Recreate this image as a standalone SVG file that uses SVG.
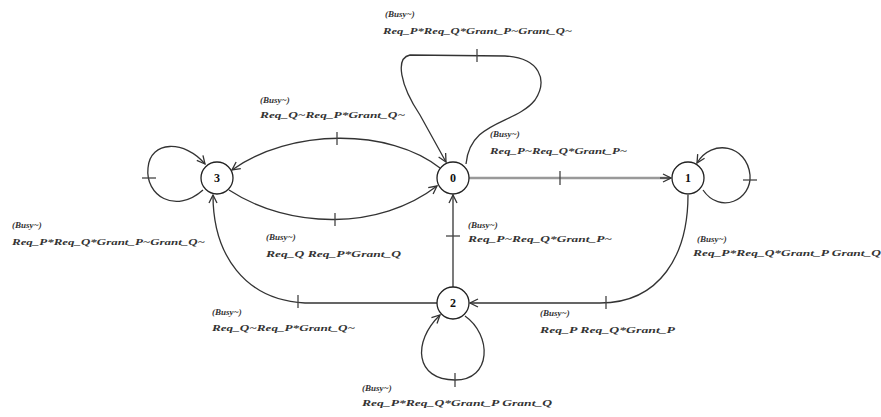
<svg xmlns="http://www.w3.org/2000/svg" width="881" height="417" viewBox="0 0 881 417">
<style>
.n circle{fill:#fff;stroke:#222;stroke-width:1.3}
.n text{font-family:"Liberation Serif",serif;font-size:12px;font-weight:bold;text-anchor:middle;fill:#111}
.e{fill:none;stroke:#333;stroke-width:1.3}
.g{fill:none;stroke:#999;stroke-width:2.6}
.t{stroke:#444;stroke-width:1.3}
.l{font-family:"Liberation Serif",serif;font-style:italic;font-weight:bold;font-size:9px;fill:#333}
</style>
<defs>
<marker id="a" markerWidth="10" markerHeight="10" refX="9" refY="5" orient="auto" markerUnits="userSpaceOnUse">
<path d="M1,1 L9,5 L1,9" fill="none" stroke="#333" stroke-width="1.3"/>
</marker>
</defs>
<g id="connectors">
<path class="e" d="M440 168 C390 128,290 128,232 170" marker-end="url(#a)"/>
<line class="t" x1="337" y1="132" x2="337" y2="145"/>
<path class="e" d="M229 190 C290 230,380 230,437 186" marker-end="url(#a)"/>
<line class="t" x1="335" y1="213" x2="335" y2="226"/>
<path class="g" d="M469 178 L670 178"/>
<path class="e" d="M660 178 L671 178" marker-end="url(#a)"/>
<line class="t" x1="560" y1="171" x2="560" y2="185"/>
<path class="e" d="M453 287 L453 195" marker-end="url(#a)"/>
<line class="t" x1="446" y1="236" x2="460" y2="236"/>
<path class="e" d="M688 195 C688 255,660 303,600 303 L470 303" marker-end="url(#a)"/>
<line class="t" x1="606" y1="296" x2="606" y2="309"/>
<path class="e" d="M437 303 L305 303 C245 300,213 255,213 195" marker-end="url(#a)"/>
<line class="t" x1="298" y1="295" x2="298" y2="308"/>
<path class="e" d="M466 164 C470 120,515 125,535 100 C548 80,540 58,505 56 L410 55 C395 58,400 85,420 115 L446 162" marker-end="url(#a)"/>
<line class="t" x1="477" y1="49" x2="477" y2="62"/>
<path class="e" d="M203 190 C175 215,145 195,148 168 C150 140,185 140,205 164" marker-end="url(#a)"/>
<line class="t" x1="142" y1="178" x2="156" y2="178"/>
<path class="e" d="M703 190 C720 215,752 200,750 175 C747 145,712 138,697 163" marker-end="url(#a)"/>
<line class="t" x1="743" y1="180" x2="757" y2="180"/>
<path class="e" d="M465 316 C492 335,492 380,455 380 C415 380,412 342,440 315" marker-end="url(#a)"/>
<line class="t" x1="455" y1="373" x2="455" y2="387"/>
</g>
<g id="node0" class="n"><circle cx="453" cy="178" r="16"/><text x="453" y="182">0</text></g>
<g id="node1" class="n"><circle cx="688" cy="178" r="16"/><text x="688" y="182">1</text></g>
<g id="node2" class="n"><circle cx="453" cy="303" r="16"/><text x="453" y="307">2</text></g>
<g id="node3" class="n"><circle cx="217" cy="178" r="16"/><text x="217" y="182">3</text></g>
<g id="labels">
<text class="l" x="385" y="17">(Busy~)</text>
<text class="l" x="383" y="34" textLength="189" lengthAdjust="spacingAndGlyphs">Req_P*Req_Q*Grant_P~Grant_Q~</text>
<text class="l" x="260" y="103">(Busy~)</text>
<text class="l" x="260" y="118" textLength="145" lengthAdjust="spacingAndGlyphs">Req_Q~Req_P*Grant_Q~</text>
<text class="l" x="490" y="137">(Busy~)</text>
<text class="l" x="490" y="154" textLength="137" lengthAdjust="spacingAndGlyphs">Req_P~Req_Q*Grant_P~</text>
<text class="l" x="12" y="228">(Busy~)</text>
<text class="l" x="12" y="245" textLength="193" lengthAdjust="spacingAndGlyphs">Req_P*Req_Q*Grant_P~Grant_Q~</text>
<text class="l" x="266" y="240">(Busy~)</text>
<text class="l" x="266" y="257" textLength="135" lengthAdjust="spacingAndGlyphs">Req_Q  Req_P*Grant_Q</text>
<text class="l" x="468" y="228">(Busy~)</text>
<text class="l" x="468" y="242" textLength="144" lengthAdjust="spacingAndGlyphs">Req_P~Req_Q*Grant_P~</text>
<text class="l" x="697" y="242">(Busy~)</text>
<text class="l" x="693" y="256" textLength="188" lengthAdjust="spacingAndGlyphs">Req_P*Req_Q*Grant_P Grant_Q</text>
<text class="l" x="212" y="315">(Busy~)</text>
<text class="l" x="212" y="331" textLength="143" lengthAdjust="spacingAndGlyphs">Req_Q~Req_P*Grant_Q~</text>
<text class="l" x="540" y="316">(Busy~)</text>
<text class="l" x="540" y="333" textLength="135" lengthAdjust="spacingAndGlyphs">Req_P  Req_Q*Grant_P</text>
<text class="l" x="362" y="391">(Busy~)</text>
<text class="l" x="362" y="406" textLength="190" lengthAdjust="spacingAndGlyphs">Req_P*Req_Q*Grant_P Grant_Q</text>
</g>
</svg>
